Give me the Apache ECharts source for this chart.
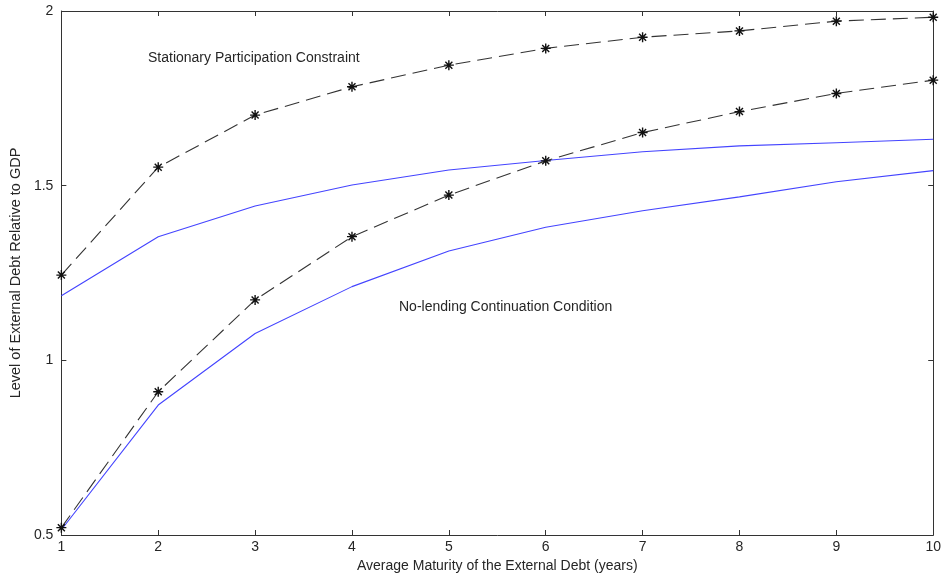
<!DOCTYPE html>
<html>
<head>
<meta charset="utf-8">
<script src="https://cdn.jsdelivr.net/npm/echarts@6/dist/echarts.min.js"></script>
<style>html,body{margin:0;padding:0;background:#fff}#c{width:944px;height:580px}</style>
</head>
<body>
<div id="c"></div>
<script>
const maturity = [1, 2, 3, 4, 5, 6, 7, 8, 9, 10];
const participationStar = [1.244, 1.553, 1.702, 1.783, 1.845, 1.893, 1.925, 1.943, 1.971, 1.982];
const participationBlue = [1.185, 1.354, 1.442, 1.502, 1.545, 1.572, 1.597, 1.614, 1.623, 1.633];
const noLendingStar = [0.521, 0.910, 1.173, 1.354, 1.473, 1.571, 1.652, 1.712, 1.764, 1.802];
const noLendingBlue = [0.515, 0.872, 1.077, 1.211, 1.313, 1.381, 1.428, 1.468, 1.511, 1.543];
const xTicks = [1, 10, 1];
const yTicks = [0.5, 2, 0.5];
const xTitle = 'Average Maturity of the External Debt (years)';
const yTitle = 'Level of External Debt Relative to GDP';
const label1 = 'Stationary Participation Constraint';
const label2 = 'No-lending Continuation Condition';

const pair = arr => maturity.map((m, i) => [m, arr[i]]);
const FONT = 'Liberation Sans, Arial, sans-serif';
const AX = '#333';
const TXT = '#262626';
const star = 'path://M-0.7,-5L0.7,-5L0.7,5L-0.7,5Z M-5,-0.7L5,-0.7L5,0.7L-5,0.7Z M-4,-3L-3,-4L4,3L3,4Z M3,-4L4,-3L-3,4L-4,3Z';

const chart = echarts.init(document.getElementById('c'), null, {renderer: 'canvas'});
const baseAxis = {
  axisLine: {show: true, lineStyle: {color: AX, width: 1}},
  axisTick: {show: true, inside: true, length: 5, lineStyle: {color: AX}},
  splitLine: {show: false},
};
chart.setOption({
  animation: false,
  backgroundColor: '#fff',
  grid: {left: 59, right: 6, top: 11, bottom: 45},
  xAxis: [
    Object.assign({}, baseAxis, {
      type: 'value', min: xTicks[0], max: xTicks[1], interval: xTicks[2], position: 'bottom',
      axisLabel: {color: TXT, fontFamily: FONT, fontSize: 14, margin: 5},
      name: xTitle, nameLocation: 'middle', nameGap: 21,
      nameTextStyle: {color: TXT, fontFamily: FONT, fontSize: 14}
    }),
    Object.assign({}, baseAxis, {
      type: 'value', min: xTicks[0], max: xTicks[1], interval: xTicks[2], position: 'top',
      axisLabel: {show: false}
    })
  ],
  yAxis: [
    Object.assign({}, baseAxis, {
      type: 'value', min: yTicks[0], max: yTicks[1], interval: yTicks[2], position: 'left',
      axisLabel: {color: TXT, fontFamily: FONT, fontSize: 14, margin: 8},
      name: yTitle, nameLocation: 'middle', nameGap: 35, nameRotate: 90,
      nameTextStyle: {color: TXT, fontFamily: FONT, fontSize: 14.5}
    }),
    Object.assign({}, baseAxis, {
      type: 'value', min: yTicks[0], max: yTicks[1], interval: yTicks[2], position: 'right',
      axisLabel: {show: false}
    })
  ],
  series: [
    {type: 'line', data: pair(participationBlue), symbol: 'none', lineStyle: {color: '#4444ff', width: 1.1}},
    {type: 'line', data: pair(noLendingBlue), symbol: 'none', lineStyle: {color: '#4444ff', width: 1.1}},
    {type: 'line', data: pair(participationStar), symbol: star, symbolSize: 10,
      itemStyle: {color: '#111'}, lineStyle: {color: '#333', width: 1.1, type: [15, 7]}},
    {type: 'line', data: pair(noLendingStar), symbol: star, symbolSize: 10,
      itemStyle: {color: '#111'}, lineStyle: {color: '#333', width: 1.1, type: [15, 7]}}
  ],
  graphic: [
    {type: 'text', left: 148, top: 51, style: {text: label1, fill: TXT, font: '14px ' + FONT}},
    {type: 'text', left: 399, top: 300, style: {text: label2, fill: TXT, font: '14px ' + FONT}}
  ]
});
</script>
</body>
</html>
